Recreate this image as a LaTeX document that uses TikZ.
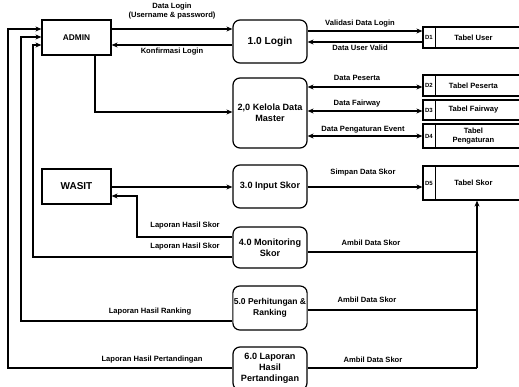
\documentclass[tikz,border=0pt]{standalone}
\usepackage{fontspec}
\setmainfont{Liberation Sans}
\usetikzlibrary{arrows.meta}
\begin{document}
\begin{tikzpicture}[x=1pt,y=-1pt, line width=1.2pt,
  >={Stealth[length=6pt,width=5pt]},
  proc/.style={draw, rounded corners=7pt, align=center, minimum width=74pt, inner sep=1pt,
    font=\bfseries\fontsize{9.1}{10.8}\selectfont},
  ext/.style={draw, align=center, minimum width=69pt, inner sep=1pt},
  store/.style={draw, minimum width=107pt, inner sep=0pt},
  lbl/.style={font=\bfseries\fontsize{7.6}{9}\selectfont, align=center, inner sep=0pt},
  dlbl/.style={font=\bfseries\fontsize{6}{7}\selectfont, inner sep=0pt},
  tlbl/.style={font=\bfseries\fontsize{7.6}{9.5}\selectfont, align=center, inner sep=0pt}]
\fill[white] (0,0) rectangle (519,387);
\clip (0,0) rectangle (519,387);
% external entities
\node[ext, minimum height=35pt, font=\bfseries\fontsize{8.3}{10}\selectfont] (admin) at (76.5,37.5) {ADMIN};
\node[ext, minimum height=35pt, font=\bfseries\fontsize{10}{12}\selectfont] (wasit) at (76.5,186.5) {WASIT};
% processes
\node[proc, minimum height=43pt, font=\bfseries\fontsize{10.2}{12}\selectfont] (p1) at (270,41.5) {1.0 Login};
\node[proc, minimum height=70pt] (p2) at (270,113) {2,0 Kelola Data\\Master};
\node[proc, minimum height=43pt] (p3) at (270,186.5) {3.0 Input Skor};
\node[proc, minimum height=41pt] (p4) at (270,247.5) {4.0 Monitoring\\Skor};
\node[proc, minimum height=44pt, font=\bfseries\fontsize{8.5}{10.5}\selectfont] (p5) at (270,308) {5.0 Perhitungan \&\\Ranking};
\node[proc, minimum height=43pt] (p6) at (270,368.5) {6.0 Laporan\\Hasil\\Pertandingan};
% data stores
\node[store, minimum height=21pt] (d1) at (476.5,37.5) {};
\node[store, minimum height=21pt] (d2) at (476.5,85.5) {};
\node[store, minimum height=20pt] (d3) at (476.5,110) {};
\node[store, minimum height=24pt] (d4) at (476.5,136) {};
\node[store, minimum height=34pt] (d5) at (476.5,183) {};
\foreach \d/\t/\n in {d1/Tabel User/D1, d2/Tabel Peserta/D2, d3/Tabel Fairway/D3, d4/{Tabel\\Pengaturan}/D4, d5/Tabel Skor/D5}{
  \draw ([xshift=13pt]\d.north west) -- ([xshift=13pt]\d.south west);
  \node[dlbl] at ([xshift=6.5pt]\d.west) {\n};
  \node[tlbl] at ([xshift=51pt]\d.west) {\t};
}
% flows
\draw[->] (admin.east |- 0,29) -- (p1.west |- 0,29);
\draw[->] (p1.west |- 0,45) -- (admin.east |- 0,45);
\node[lbl] at (172,11) {Data Login\\(Username \& password)};
\node[lbl] at (172,52) {Konfirmasi Login};
\draw[->] (95,0 |- admin.south) |- (p2.west |- 0,112);
\draw[->] (p1.east |- 0,31) -- (d1.west |- 0,31);
\draw[->] (d1.west |- 0,42) -- (p1.east |- 0,42);
\node[lbl] at (360,24) {Validasi Data Login};
\node[lbl] at (360,48) {Data User Valid};
\draw[<->] (p2.east |- 0,87) -- (d2.west |- 0,87);
\draw[<->] (p2.east |- 0,111) -- (d3.west |- 0,111);
\draw[<->] (p2.east |- 0,136) -- (d4.west |- 0,136);
\node[lbl] at (357,78) {Data Peserta};
\node[lbl] at (357,104) {Data Fairway};
\node[lbl] at (363,130) {Data Pengaturan Event};
\draw[->] (wasit.east |- 0,187) -- (p3.west |- 0,187);
\draw[->] (p3.east |- 0,187) -- (d5.west |- 0,187);
\node[lbl] at (363,173) {Simpan Data Skor};
\draw[->] (p4.west |- 0,237) -- (137,237) |- (wasit.east |- 0,196);
\node[lbl] at (185,226) {Laporan Hasil Skor};
\draw[->] (p4.west |- 0,257) -| (33,45) -- (admin.west |- 0,45);
\node[lbl] at (185,247) {Laporan Hasil Skor};
\draw[->] (p5.west |- 0,321) -| (21,37) -- (admin.west |- 0,37);
\node[lbl] at (150,312) {Laporan Hasil Ranking};
\draw[->] (p6.west |- 0,368) -| (8,29) -- (admin.west |- 0,29);
\node[lbl] at (152,360) {Laporan Hasil Pertandingan};
\coordinate (j) at (477,368);
\draw (p4.east |- 0,252) -- (j |- 0,252);
\draw (p5.east |- 0,310) -- (j |- 0,310);
\draw (p6.east |- j) -- (j);
\draw[->, line width=2pt] (j) -- (j |- d5.south);
\node[lbl] at (371,243) {Ambil Data Skor};
\node[lbl] at (367,300) {Ambil Data Skor};
\node[lbl] at (373,360) {Ambil Data Skor};
\end{tikzpicture}
\end{document}
